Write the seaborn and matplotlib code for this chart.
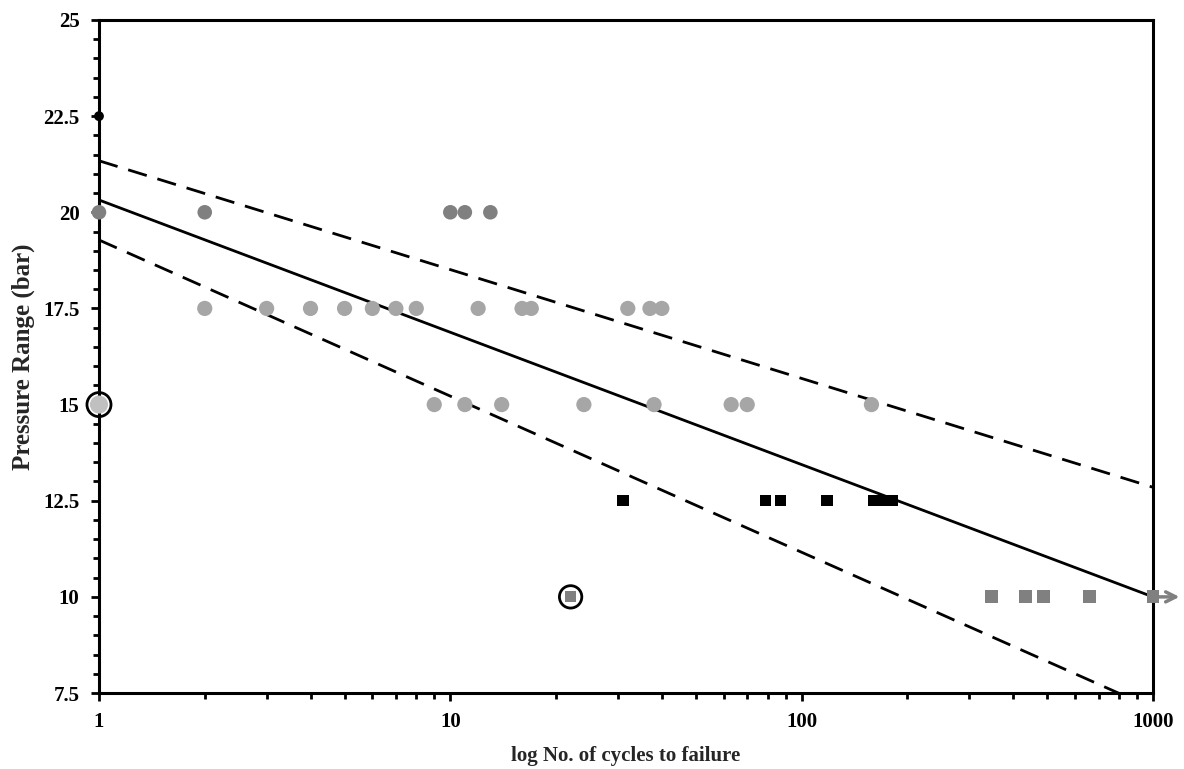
import numpy as np
import pandas as pd
import matplotlib.pyplot as plt
import seaborn as sns

# Data
black_dot_x = [1]
black_dot_y = [22.5]

gray20_x = [1, 2, 10, 11, 13]
gray20_y = [20, 20, 20, 20, 20]

light175_x = [2, 3, 4, 5, 6, 7, 8, 12, 16, 17, 32, 37, 40]
light175_y = [17.5] * 13

light15_x = [9, 11, 14, 24, 38, 63, 70, 158]
light15_y = [15] * 8

circled_dot_x = [1]
circled_dot_y = [15]

black_sq_x = [31, 79, 87, 118, 160, 170, 181]
black_sq_y = [12.5] * 7

gray_sq_x = [347, 434, 488, 658, 1000]
gray_sq_y = [10] * 5

circled_sq_x = [22]
circled_sq_y = [10]

# fit and bounds (end points at N=1 and N=1000)
line_x = [1, 1000]
fit_y = [20.32, 10.0]
upper_y = [21.34, 12.85]
lower_y = [19.28, 7.1]

y_ticks = [7.5, 10, 12.5, 15, 17.5, 20, 22.5, 25]
y_labels = ["7.5", "10", "12.5", "15", "17.5", "20", "22.5", "25"]
x_ticks = [1, 10, 100, 1000]
x_labels = ["1", "10", "100", "1000"]

sns.set_style("white")
plt.rcParams['font.family'] = ['Liberation Serif', 'DejaVu Serif']
plt.rcParams['font.weight'] = 'bold'

fig = plt.figure(figsize=(11.84, 7.69), dpi=100)
ax = fig.add_axes([0.0836, 0.0988, 0.8902, 0.8752])

# regression lines
lw = 2.0
sns.lineplot(x=line_x, y=fit_y, color="black", lw=lw, ax=ax)
for yy in (upper_y, lower_y):
    sns.lineplot(x=line_x, y=yy, color="black", lw=lw, ax=ax,
                 dashes=False, linestyle=(0, (7, 4)))

# points
def pts(x, y, color, marker, size, z=5):
    sns.scatterplot(x=x, y=y, color=color, marker=marker, s=size,
                    edgecolor="none", linewidth=0, ax=ax, clip_on=False, zorder=z)

pts(light175_x, light175_y, "#a6a6a6", "o", 120)
pts(light15_x, light15_y, "#a6a6a6", "o", 120)
pts(gray20_x, gray20_y, "#808080", "o", 110)
pts(black_dot_x, black_dot_y, "black", "o", 50, z=6)
pts(black_sq_x, black_sq_y, "black", "s", 65)
pts(gray_sq_x, gray_sq_y, "#808080", "s", 85)
pts(circled_dot_x, circled_dot_y, "#c0c0c0", "o", 170, z=6)
pts(circled_sq_x, circled_sq_y, "#808080", "s", 60, z=6)

# open circles marking special points
for cx, cy, s in [(circled_dot_x, circled_dot_y, 300), (circled_sq_x, circled_sq_y, 260)]:
    ax.scatter(cx, cy, s=s, facecolor="none", edgecolor="black", linewidth=2,
               clip_on=False, zorder=7)

# run-out arrow
ax.annotate("", xy=(1190, 10), xytext=(1000, 10),
            arrowprops=dict(arrowstyle="->", color="#808080", lw=2.5,
                            mutation_scale=18, shrinkA=0, shrinkB=0),
            annotation_clip=False, zorder=6)

ax.set_xscale("log")
ax.set_xlim(1, 1000)
ax.set_ylim(7.5, 25)
ax.set_xticks(x_ticks)
ax.set_xticklabels(x_labels)
ax.set_yticks(y_ticks)
ax.set_yticklabels(y_labels)
ax.set_yticks(np.arange(7.5, 25.01, 0.5), minor=True)

for sp in ax.spines.values():
    sp.set_visible(True)
    sp.set_color("black")
    sp.set_linewidth(2.2)

ax.tick_params(axis="both", which="major", direction="out", length=6, width=2,
               labelsize=15, colors="black", pad=8)
ax.tick_params(axis="both", which="minor", direction="out", length=4, width=2,
               colors="black")
ax.tick_params(bottom=True, left=True, which="both")
for lab in ax.get_xticklabels() + ax.get_yticklabels():
    lab.set_fontweight("bold")

ax.set_xlabel("log No. of cycles to failure", fontsize=15, fontweight="bold", labelpad=10)
ax.set_ylabel("Pressure Range (bar)", fontsize=18, fontweight="bold", labelpad=6)
ax.grid(False)

fig.savefig("out.png", dpi=100)
